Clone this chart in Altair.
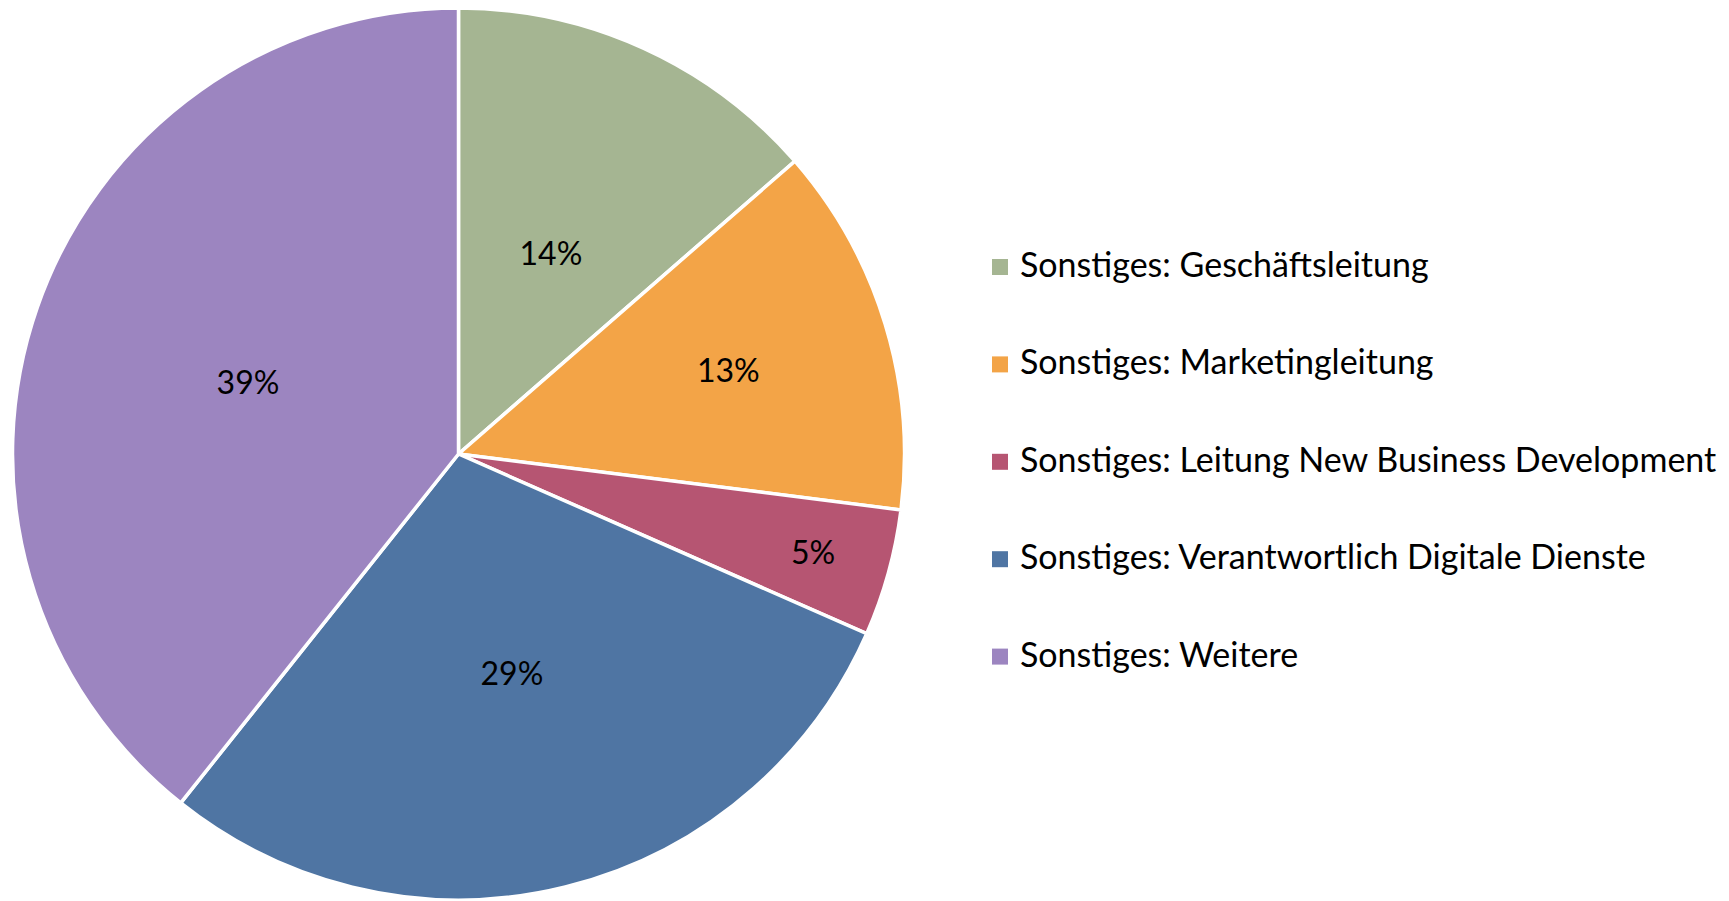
import altair as alt
import pandas as pd

categories = [
    "Sonstiges: Geschäftsleitung",
    "Sonstiges: Marketingleitung",
    "Sonstiges: Leitung New Business Development",
    "Sonstiges: Verantwortlich Digitale Dienste",
    "Sonstiges: Weitere",
]
values = [13.6, 13.4, 4.6, 29.1, 39.3]
labels = ["14%", "13%", "5%", "29%", "39%"]
colors = ["#A5B592", "#F3A447", "#B65572", "#4F75A3", "#9C85C0"]
order = [0, 1, 2, 3, 4]

df = pd.DataFrame({"cat": categories, "value": values, "label": labels, "idx": order})

CX, CY, R = 450.5, 446, 446

legend = alt.Legend(
    title=None,
    orient="none",
    legendX=975,
    legendY=242,
    symbolType="square",
    symbolSize=256,
    symbolStrokeWidth=0,
    labelFont="Lato",
    labelFontSize=34,
    labelColor="black",
    labelOffset=3,
    labelLimit=0,
    rowPadding=63.4,
    padding=0,
)

base = alt.Chart(df).encode(
    theta=alt.Theta("value:Q", stack=True),
    order=alt.Order("idx:Q"),
)

pie = base.mark_arc(outerRadius=R, stroke="white", strokeWidth=3.5).encode(
    color=alt.Color("cat:N", scale=alt.Scale(domain=categories, range=colors), legend=legend),
    x=alt.value(CX),
    y=alt.value(CY),
)


def label_layer(radius, keep, dy):
    return (
        base.transform_calculate(
            show="indexof(" + str(keep) + ", datum.idx) >= 0 ? datum.label : ''"
        )
        .mark_text(radius=radius, font="Lato", fontSize=32, color="black", dy=dy)
        .encode(text="show:N", detail="cat:N", x=alt.value(CX), y=alt.value(CY))
    )


text_main = label_layer(223, [0, 3, 4], 4)
text_orange = label_layer(282, [1], 0)
text_red = label_layer(368, [2], 2)

chart = (
    alt.layer(pie, text_main, text_orange, text_red)
    .properties(width=1713, height=893, autosize=alt.AutoSizeParams(type="none"), padding=0)
    .configure_view(stroke=None)
)

chart.save("out.html", embed_options={"renderer": "svg", "actions": False})
